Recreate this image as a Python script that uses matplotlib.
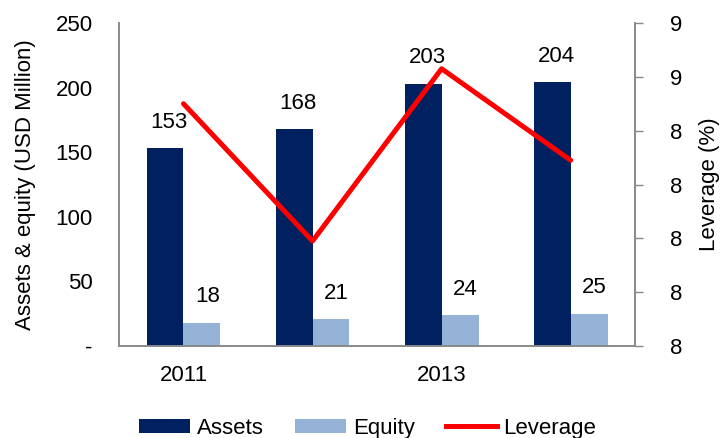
import matplotlib
matplotlib.use("Agg")
import matplotlib.pyplot as plt
import numpy as np
from matplotlib.patches import Patch
from matplotlib.lines import Line2D

plt.rcParams['font.family'] = ['Liberation Sans', 'DejaVu Sans']

categories = ["2011", "2012", "2013", "2014"]
assets = [153, 168, 203, 204]
equity = [18, 21, 24, 25]
leverage = [8.50, 7.99, 8.63, 8.29]
left_ticks = [0, 50, 100, 150, 200, 250]
left_tick_labels = ["-", "50", "100", "150", "200", "250"]
right_ticks = [7.6, 7.8, 8.0, 8.2, 8.4, 8.6, 8.8]

navy = "#002060"
light = "#95B3D7"
red = "#FF0000"
gray = "#898989"
fs = 16

fig = plt.figure(figsize=(7.21, 4.38), dpi=100)
ax = fig.add_axes([0.165, 0.21, 0.716, 0.7375])
ax2 = ax.twinx()

x = np.arange(len(categories))
w = 0.286
ax.bar(x - w / 2, assets, width=w, color=navy, zorder=2)
ax.bar(x + w / 2, equity, width=w, color=light, zorder=2)
for xi, v in zip(x, assets):
    ax.annotate(f"{v}", (xi - w / 2, v), xytext=(3, 11), textcoords="offset points",
                ha="center", va="bottom", fontsize=fs, color="black")
for xi, v in zip(x, equity):
    ax.annotate(f"{v}", (xi + w / 2, v), xytext=(4, 11), textcoords="offset points",
                ha="center", va="bottom", fontsize=fs, color="black")

ax.set_xlim(-0.5, len(categories) - 0.5)
ax.set_ylim(0, 250)
ax.set_yticks(left_ticks)
ax.set_yticklabels(left_tick_labels, fontsize=fs)
ax.tick_params(axis="y", length=0, pad=19)
ax.set_xticks([x[0], x[2]])
ax.set_xticklabels([categories[0], categories[2]], fontsize=fs)
ax.tick_params(axis="x", length=0, pad=14)
ax.set_ylabel("Assets & equity (USD Million)", fontsize=fs, labelpad=14)

ax2.plot(x, leverage, color=red, linewidth=3.6, solid_capstyle="round", zorder=3)
ax2.set_ylim(7.6, 8.8)
ax2.set_yticks(right_ticks)
ax2.set_yticklabels([f"{t:.0f}" for t in right_ticks], fontsize=fs)
ax2.tick_params(axis="y", length=6, width=1, color=gray, pad=19)
ax2.set_ylabel("Leverage (%)", fontsize=fs, labelpad=12)

for a in (ax, ax2):
    a.spines["top"].set_visible(False)
    for s in ("left", "right", "bottom"):
        a.spines[s].set_color(gray)
        a.spines[s].set_linewidth(1.2)

handles = [Patch(facecolor=navy), Patch(facecolor=light), Line2D([0], [0], color=red, linewidth=3.6)]
fig.legend(handles, ["Assets", "Equity", "Leverage"], loc="center", bbox_to_anchor=(0.51, 0.022),
           ncol=3, frameon=False, fontsize=fs, handlelength=2.3, handleheight=0.6,
           handletextpad=0.3, columnspacing=1.4)

fig.savefig("out.png", dpi=100)
